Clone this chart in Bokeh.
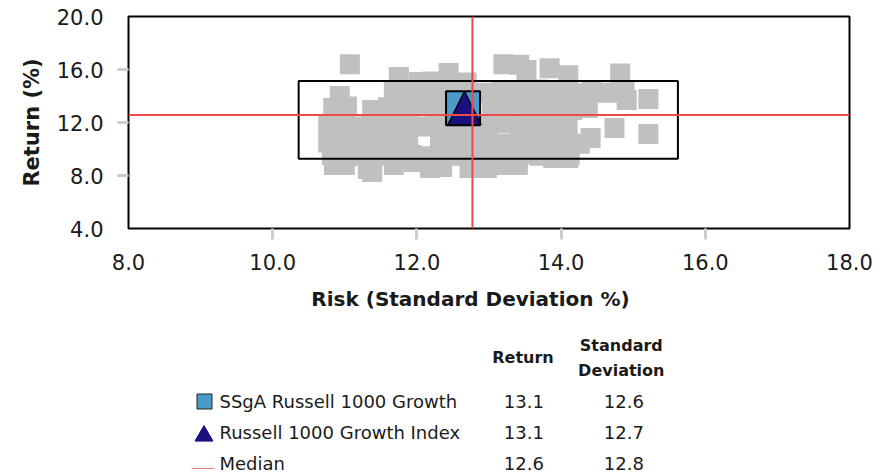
from bokeh.plotting import figure
from bokeh.layouts import column
from bokeh.models import Range1d, FixedTicker, PrintfTickFormatter, Span
from bokeh.core.properties import value
from bokeh.embed import file_html
from bokeh.resources import INLINE

# ---------------- data ----------------
peer_risk = [
    11.07, 13.20, 13.42, 13.84, 11.75, 12.44, 14.82, 14.10, 12.03, 12.21, 12.69, 13.52, 10.93,
    11.68, 11.93, 12.18, 12.43, 12.93, 13.18, 13.42, 13.67, 13.92, 14.17, 14.42, 14.64,
    14.88, 15.21, 14.91,
    10.84, 11.03, 11.38, 11.60, 11.82, 12.04, 12.26, 12.48, 13.04, 13.26, 13.48, 13.70, 13.92, 14.15, 14.37,
    10.77, 10.99, 11.21, 11.43, 11.65, 11.88, 12.10, 12.32, 12.54, 12.76, 12.98, 13.20, 13.43, 13.65, 13.87, 14.09,
    14.74, 15.21, 14.41,
    10.77, 10.99, 11.21, 11.43, 11.65, 11.88, 12.32, 12.54, 12.76, 12.98, 13.20, 13.43, 13.65, 13.87, 14.09, 14.26,
    10.82, 11.04, 11.26, 11.49, 11.71, 11.93, 12.15, 12.37, 12.59, 12.82, 13.04, 13.26, 13.48, 13.70, 13.92, 14.12,
    10.85, 11.00, 11.32, 11.38, 11.68, 11.96, 12.18, 12.35, 12.73, 12.97, 13.20, 13.40, 13.89, 14.10,
]
peer_return = [
    16.40, 16.40, 16.35, 16.10, 15.43, 15.74, 15.70, 15.57, 15.06, 15.10, 15.02, 15.96, 14.00,
    14.45, 14.30, 14.20, 14.35, 14.25, 14.40, 14.30, 14.50, 14.35, 14.20, 14.40, 14.25,
    14.30, 13.77, 13.70,
    13.10, 13.20, 12.95, 13.15, 13.05, 13.25, 12.90, 13.10, 13.00, 13.20, 12.85, 13.05, 13.15, 12.95, 13.10,
    11.75, 11.90, 11.70, 11.85, 11.80, 11.95, 11.70, 11.85, 11.75, 11.90, 11.80, 11.95, 11.70, 11.85, 11.75, 11.90,
    11.58, 11.13, 10.83,
    10.50, 10.60, 10.45, 10.55, 10.40, 10.60, 10.50, 10.65, 10.45, 10.55, 10.40, 10.60, 10.50, 10.45, 10.60, 10.40,
    9.55, 9.45, 9.60, 9.50, 9.40, 9.55, 9.45, 9.60, 9.50, 9.40, 9.55, 9.45, 9.60, 9.50, 9.40, 9.55,
    8.79, 8.79, 8.49, 8.26, 8.79, 9.02, 8.57, 8.64, 8.57, 8.57, 8.79, 8.79, 9.32, 9.32,
]

fund_name = "SSgA Russell 1000 Growth"
fund_risk = [12.64]
fund_return = [13.08]

index_name = "Russell 1000 Growth Index"
index_risk = 12.66
index_return = 13.10

median_risk = 12.77
median_return = 12.57

box_risk = [10.36, 15.62]
box_return = [9.27, 15.13]

x_ticks = [8, 10, 12, 14, 16, 18]
x_marks = [10, 12, 14, 16]
y_ticks = [4, 8, 12, 16, 20]
y_marks = [8, 12, 16]

table_names = [fund_name, index_name, "Median"]
table_returns = ["13.1", "13.1", "12.6"]
table_sds = ["12.6", "12.7", "12.8"]

x_title = "Risk (Standard Deviation %)"
y_title = "Return (%)"

# ---------------- layout constants (page pixels) ----------------
W = 882
TOP_H = 280
BOT_H = 194
B_LEFT, B_RIGHT, B_TOP = 128, 33, 16
FRAME_BOTTOM = 228
B_BOTTOM = TOP_H - FRAME_BOTTOM
FRAME_W = W - B_LEFT - B_RIGHT
FRAME_H = FRAME_BOTTOM - B_TOP

FONT = "DejaVu Sans"
TXT = "#1a1a1a"
TICK_COLOR = "#c8cdd2"
RED = "#f04848"

# ---------------- scatter figure ----------------
p = figure(width=W, height=TOP_H, x_range=Range1d(8, 18), y_range=Range1d(4, 20),
           output_backend="svg", toolbar_location=None,
           min_border_left=B_LEFT, min_border_right=B_RIGHT,
           min_border_top=B_TOP, min_border_bottom=B_BOTTOM)
p.grid.visible = False
p.outline_line_color = "black"
p.outline_line_width = 2
p.background_fill_color = "white"
p.border_fill_color = "white"

p.xaxis.ticker = FixedTicker(ticks=x_ticks, minor_ticks=x_marks)
p.yaxis.ticker = FixedTicker(ticks=y_ticks, minor_ticks=y_marks)
for ax in (p.xaxis[0], p.yaxis[0]):
    ax.formatter = PrintfTickFormatter(format="%.1f")
    ax.axis_line_color = None
    ax.major_tick_line_color = None
    ax.major_tick_out = 0
    ax.major_tick_in = 0
    ax.minor_tick_line_color = TICK_COLOR
    ax.minor_tick_line_width = 3
    ax.minor_tick_out = 11
    ax.minor_tick_in = 0
    ax.major_label_text_font = FONT
    ax.major_label_text_font_size = "21px"
    ax.major_label_text_color = TXT
p.xaxis.major_label_standoff = 14
p.yaxis.major_label_standoff = 14
p.yaxis.axis_label = y_title
p.yaxis.axis_label_text_font = FONT
p.yaxis.axis_label_text_font_style = "bold"
p.yaxis.axis_label_text_font_size = "21px"
p.yaxis.axis_label_text_color = TXT
p.yaxis.axis_label_standoff = 10

p.scatter(peer_risk, peer_return, marker="square", size=20,
          fill_color="#c0c0c0", line_color=None)
p.quad(left=[box_risk[0]], right=[box_risk[1]], bottom=[box_return[0]], top=[box_return[1]],
       fill_color=None, line_color="black", line_width=2)
p.scatter(fund_risk, fund_return, marker="square", size=34,
          fill_color="#4a9bc9", line_color="black", line_width=2)

# triangle drawn as patch, sized in pixels and converted through the axis scales
tri_half_w = 16.5 * (18 - 8) / FRAME_W
tri_half_h = 16.7 * (20 - 4) / FRAME_H
p.patch([index_risk - tri_half_w, index_risk + tri_half_w, index_risk],
        [index_return - tri_half_h, index_return - tri_half_h, index_return + tri_half_h],
        fill_color="#1b0f80", line_color="black", line_width=1.5)

p.add_layout(Span(location=median_return, dimension="width", line_color=RED, line_width=2))
p.add_layout(Span(location=median_risk, dimension="height", line_color=RED, line_width=2))

# ---------------- table / legend figure (ranges in page pixels) ----------------
t = figure(width=W, height=BOT_H,
           x_range=Range1d(B_LEFT, W - B_RIGHT), y_range=Range1d(TOP_H + BOT_H, TOP_H),
           output_backend="svg", toolbar_location=None, x_axis_type=None, y_axis_type=None,
           min_border_left=B_LEFT, min_border_right=B_RIGHT, min_border_top=0,
           min_border_bottom=0, outline_line_color=None)
t.grid.visible = False

t.text(x=[470], y=[298], text=[x_title], text_font=value(FONT), text_font_style="bold",
       text_font_size="20px", text_color=TXT, text_align="center", text_baseline="middle")

t.text(x=[522.5, 620.8, 620.8], y=[356.5, 344.5, 370], text=["Return", "Standard", "Deviation"],
       text_font=value(FONT), text_font_style="bold", text_font_size="16px",
       text_color=TXT, text_align="center", text_baseline="middle")

row_y = [401, 432, 463]
t.text(x=[219] * 3, y=row_y, text=table_names, text_font=value(FONT),
       text_font_size="18px", text_color=TXT, text_align="left", text_baseline="middle")
t.text(x=[523.3] * 3, y=row_y, text=table_returns, text_font=value(FONT),
       text_font_size="18px", text_color=TXT, text_align="center", text_baseline="middle")
t.text(x=[623.3] * 3, y=row_y, text=table_sds, text_font=value(FONT),
       text_font_size="18px", text_color=TXT, text_align="center", text_baseline="middle")

t.scatter([204], [401], marker="square", size=15, fill_color="#4a9bc9",
          line_color="#222222", line_width=1)
t.scatter([203.5], [435.4], marker="triangle", size=18, fill_color="#1b0f80",
          line_color="#1b0f80", line_width=1)
t.segment(x0=[191], y0=[468], x1=[214], y1=[468], line_color="#f08080", line_width=1)

layout = column(p, t, spacing=0)
open("out.html", "w").write(file_html(layout, INLINE))
